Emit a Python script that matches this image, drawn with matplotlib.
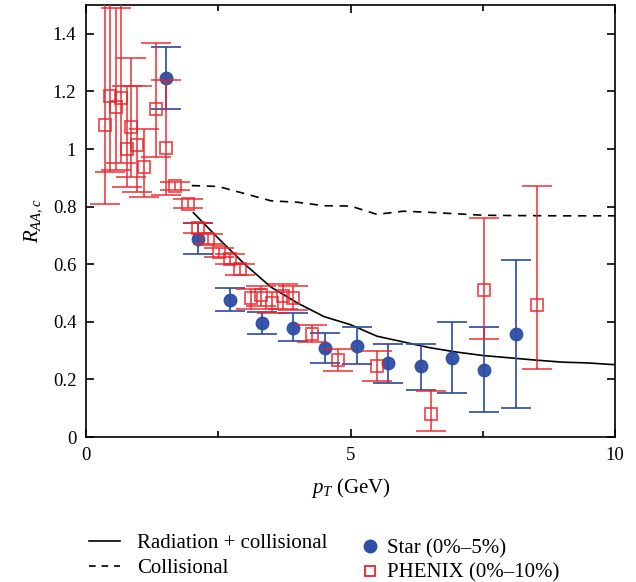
import matplotlib
matplotlib.use("Agg")
import matplotlib.pyplot as plt
from matplotlib.lines import Line2D
import numpy as np

plt.rcParams['font.family'] = ['Liberation Serif', 'DejaVu Serif']
plt.rcParams['mathtext.fontset'] = 'custom'
plt.rcParams['mathtext.it'] = 'Liberation Serif:italic'
plt.rcParams['mathtext.rm'] = 'Liberation Serif'

# ---- data ----
star_x = [1.51, 2.11, 2.72, 3.32, 3.92, 4.52, 5.12, 5.71, 6.33, 6.92, 7.52, 8.12]
star_y = [1.246, 0.689, 0.476, 0.396, 0.378, 0.309, 0.317, 0.257, 0.245, 0.276, 0.233, 0.358]
star_lo = [1.139, 0.634, 0.437, 0.358, 0.332, 0.256, 0.253, 0.189, 0.164, 0.154, 0.088, 0.100]
star_hi = [1.354, 0.744, 0.516, 0.434, 0.430, 0.361, 0.381, 0.324, 0.323, 0.400, 0.381, 0.614]

phenix_x = [0.365, 0.46, 0.57, 0.67, 0.77, 0.86, 0.97, 1.10, 1.32, 1.52, 1.68, 1.935,
            2.12, 2.31, 2.52, 2.72, 2.91, 3.11, 3.31, 3.51, 3.72, 3.92, 4.27, 4.77,
            5.51, 6.52, 7.52, 8.53]
phenix_y = [1.085, 1.183, 1.147, 1.178, 1.0, 1.078, 1.015, 0.938, 1.138, 1.003, 0.872, 0.808,
            0.727, 0.686, 0.642, 0.619, 0.582, 0.481, 0.492, 0.466, 0.489, 0.483, 0.359, 0.267,
            0.245, 0.08, 0.512, 0.458]
phenix_lo = [0.81, 0.92, 0.928, 0.953, 0.867, 0.903, 0.851, 0.832, 0.973, 0.841, 0.859, 0.794,
             0.71, 0.669, 0.626, 0.60, 0.561, 0.445, 0.455, 0.43, 0.445, 0.44, 0.33, 0.229,
             0.195, 0.022, 0.341, 0.237]
phenix_hi = [1.6, 1.6, 1.488, 1.6, 1.22, 1.316, 1.22, 1.07, 1.367, 1.24, 0.887, 0.825,
             0.744, 0.704, 0.657, 0.634, 0.60, 0.515, 0.525, 0.505, 0.53, 0.525, 0.39, 0.305,
             0.298, 0.16, 0.762, 0.872]

rad_x = [2.03, 2.5, 3.0, 3.5, 4.0, 4.5, 5.0, 5.5, 6.0, 6.5, 7.0, 7.5, 8.0, 8.5, 9.0, 9.5, 10.0]
rad_y = [0.779, 0.69, 0.60, 0.52, 0.465, 0.418, 0.39, 0.35, 0.33, 0.31, 0.295, 0.283, 0.275,
         0.267, 0.26, 0.257, 0.251]

col_x = [2.0, 2.5, 3.0, 3.5, 4.0, 4.5, 5.0, 5.5, 6.0, 6.5, 7.0, 7.5, 8.0, 9.0, 10.0]
col_y = [0.873, 0.87, 0.845, 0.82, 0.815, 0.803, 0.802, 0.773, 0.784, 0.78, 0.775, 0.77,
         0.769, 0.768, 0.768]

x_ticks = [0, 5, 10]
y_ticks = [0, 0.2, 0.4, 0.6, 0.8, 1.0, 1.2, 1.4]
y_ticklabels = ['0', '0.2', '0.4', '0.6', '0.8', '1', '1.2', '1.4']

blue = '#2d4ea3'
red = '#ec2227'

fig = plt.figure(figsize=(6.36, 5.82), dpi=100)
ax = fig.add_axes([86/636, 1-437/582, (615-86)/636, (437-5)/582])

ax.plot(rad_x, rad_y, color='black', lw=1.2, zorder=2)
ax.plot(col_x, col_y, color='black', lw=1.2, ls=(0, (5, 4)), zorder=2)

sy = np.array(star_y)
ax.errorbar(star_x, star_y,
            yerr=[sy - np.array(star_lo), np.array(star_hi) - sy],
            fmt='o', color=blue, ecolor=blue, ms=9, elinewidth=1.3, capsize=11,
            capthick=1.3, alpha=0.95, zorder=3)
py = np.array(phenix_y)
ax.errorbar(phenix_x, phenix_y,
            yerr=[py - np.array(phenix_lo), np.array(phenix_hi) - py],
            fmt='s', mfc='none', mec=red, color=red, ecolor=red, ms=8.3, mew=1.3,
            elinewidth=1.3, capsize=11, capthick=1.3, alpha=0.8, zorder=4)

ax.set_xlim(0, 10)
ax.set_ylim(0, 1.5)
ax.set_xticks(x_ticks)
ax.set_xticks([2.5, 7.5], minor=True)
ax.set_yticks(y_ticks)
ax.set_yticklabels(y_ticklabels)
ax.tick_params(direction='in', which='both', top=True, right=True, labelsize=13.5,
               width=1.2, pad=7)
ax.tick_params(which='major', length=6)
ax.tick_params(which='minor', length=4)
for s in ax.spines.values():
    s.set_linewidth(1.2)

ax.set_xlabel(r'$p_T$ (GeV)', fontsize=15, labelpad=9)
ax.set_ylabel(r'$R_{AA,c}$', fontsize=15, labelpad=6)

h1 = [Line2D([], [], color='black', lw=1.2),
      Line2D([], [], color='black', lw=1.2, ls=(0, (4, 3.5)))]
fig.legend(h1, ['Radiation + collisional', 'Collisional'], loc='upper left',
           bbox_to_anchor=(70/636, 1-515/582), frameon=False, fontsize=15,
           handlelength=1.5, handletextpad=0.8, labelspacing=0.24)
h2 = [Line2D([], [], color=blue, marker='o', ls='none', ms=9),
      Line2D([], [], color=red, marker='s', mfc='none', ls='none', ms=7.5, mew=1.3)]
fig.legend(h2, ['Star (0%–5%)', 'PHENIX (0%–10%)'], loc='upper left',
           bbox_to_anchor=(343/636, 1-520/582), frameon=False, fontsize=15,
           handlelength=0.8, handletextpad=0.42, labelspacing=0.24)

fig.savefig('out.png', dpi=100)
